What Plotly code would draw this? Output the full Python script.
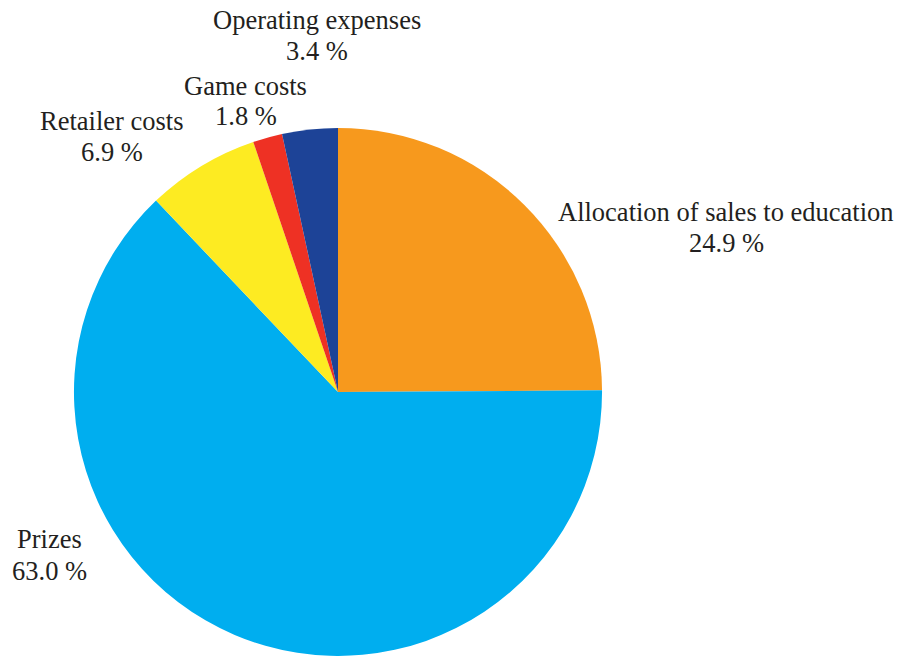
import plotly.graph_objects as go

labels = ["Allocation of sales to education", "Prizes", "Retailer costs", "Game costs", "Operating expenses"]
values = [24.9, 63.0, 6.9, 1.8, 3.4]
colors = ["#F7991D", "#00AEEF", "#FDEB22", "#EE3124", "#1D4397"]

# label anchor positions in pixels (center x, name-line y, value-line y)
label_pos = {
    "Allocation of sales to education": (726, 212, 243),
    "Prizes": (49, 539, 571),
    "Retailer costs": (112, 121, 152),
    "Game costs": (246, 86, 116),
    "Operating expenses": (317, 20, 51),
}

W, H = 904, 656
fig = go.Figure(go.Pie(
    labels=labels, values=values, sort=False, direction="clockwise", rotation=0,
    marker=dict(colors=colors, line=dict(width=0)),
    textinfo="none", hoverinfo="label+percent", showlegend=False,
    domain=dict(x=[73 / W, 603 / W], y=[0, 0.805]),
))

font = dict(family="Liberation Serif", size=26.5, color="#231F20")
annotations = []
for lab, v in zip(labels, values):
    cx, y1, y2 = label_pos[lab]
    for txt, yy in ((lab, y1), (f"{v:.1f} %", y2)):
        annotations.append(dict(text=txt, x=cx / W, y=1 - yy / H, xref="paper", yref="paper",
                                xanchor="center", yanchor="middle", showarrow=False, font=font))

fig.update_layout(width=W, height=H, margin=dict(l=0, r=0, t=0, b=0),
                  paper_bgcolor="white", plot_bgcolor="white", annotations=annotations)
fig.write_html("out.html")
